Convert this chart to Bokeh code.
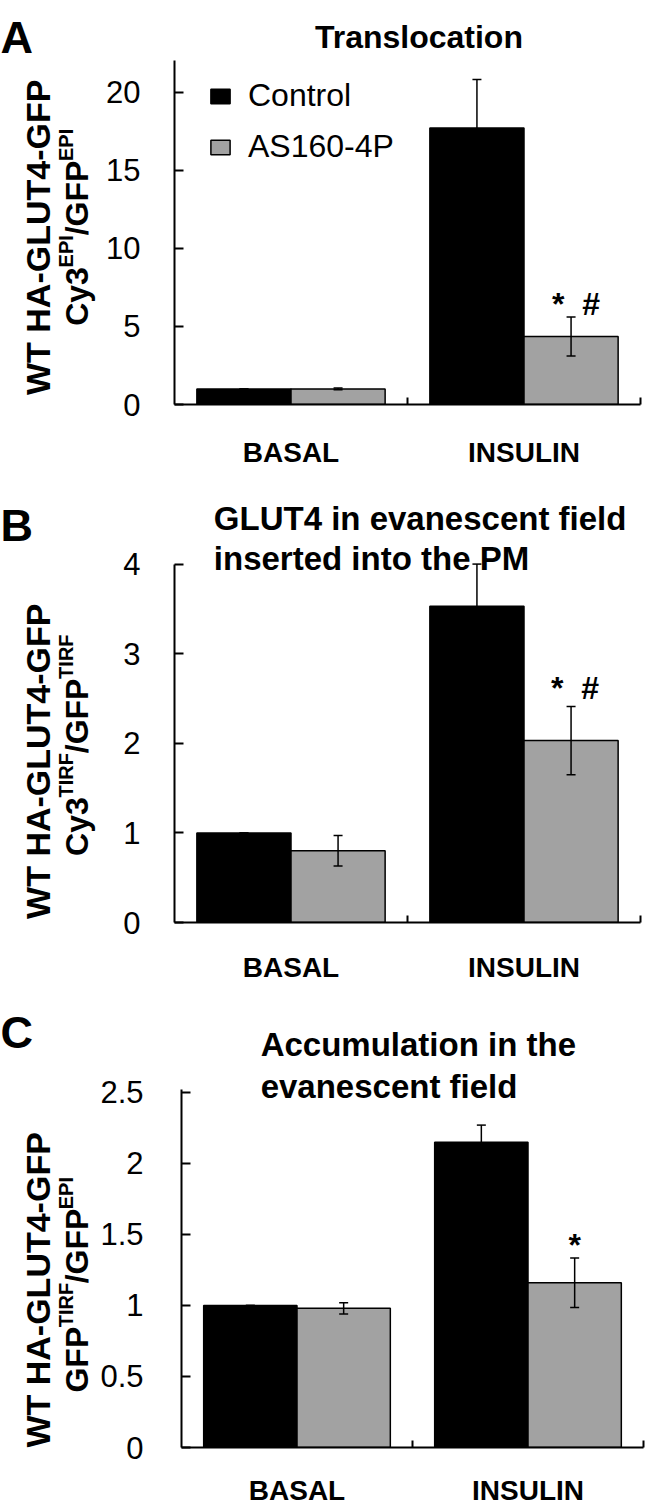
import math
from bokeh.plotting import figure
from bokeh.models import (ColumnDataSource, FixedTicker, Whisker, TeeHead, Label,
                          Range1d, Legend, LegendItem)
from bokeh.layouts import column, row
from bokeh.embed import file_html
from bokeh.resources import INLINE
from bokeh.core.properties import value

# ---------------- data ----------------
categories = ["BASAL", "INSULIN"]
series_names = ["Control", "AS160-4P"]

a_control = [1.0, 17.7]
a_control_err = [0.0, 3.1]
a_as160 = [1.0, 4.35]
a_as160_err = [0.06, 1.25]
a_sig = ["", "*\u00a0\u00a0#"]
a_ticks = [0, 5, 10, 15, 20]
a_tick_labels = ["0", "5", "10", "15", "20"]

b_control = [1.0, 3.53]
b_control_err = [0.0, 0.47]
b_as160 = [0.80, 2.03]
b_as160_err = [0.17, 0.38]
b_sig = ["", "*\u00a0\u00a0#"]
b_ticks = [0, 1, 2, 3, 4]
b_tick_labels = ["0", "1", "2", "3", "4"]

c_control = [1.0, 2.15]
c_control_err = [0.0, 0.12]
c_as160 = [0.98, 1.16]
c_as160_err = [0.04, 0.175]
c_sig = ["", "*"]
c_ticks = [0, 0.5, 1, 1.5, 2, 2.5]
c_tick_labels = ["0", "0.5", "1", "1.5", "2", "2.5"]

panel_letters = ["A", "B", "C"]
outer_label = "WT HA-GLUT4-GFP"
inner_labels = [
    [("Cy3", False), ("EPI", True), ("/GFP", False), ("EPI", True)],
    [("Cy3", False), ("TIRF", True), ("/GFP", False), ("TIRF", True)],
    [("GFP", False), ("TIRF", True), ("/GFP", False), ("EPI", True)],
]
titles = [
    ["Translocation"],
    ["GLUT4 in evanescent field", "inserted into the PM"],
    ["Accumulation in the", "evanescent field"],
]

# ---------------- style / layout ----------------
FONT = "Liberation Sans"
W = 650
LW = 97           # width of the left strip holding the rotated labels
BLACK = "#000000"
GRAY = "#a2a2a2"
BAR_W = 0.404
OFF = 0.202
MAIN_PX, SUP_PX, RAISE = 32, 20, 16
MID = 0.3465      # em distance from the text middle to the alphabetic baseline

# Arial-Bold advance widths (per 1000 em) used to stack the rotated label pieces
ADV = {'C': 722, 'y': 556, '3': 556, '/': 278, 'G': 778, 'F': 611, 'P': 667,
       'E': 667, 'I': 278, 'T': 611, 'R': 722}


def twidth(s, size):
    return sum(ADV.get(ch, 600) for ch in s) * size / 1000.0


panels = [
    dict(control=a_control, cerr=a_control_err, as160=a_as160, aerr=a_as160_err, sig=a_sig,
         ticks=a_ticks, tlabels=a_tick_labels, top=0, h=470, fl=173.6, fr=640.5,
         ft=60, fb=406, amax=22.04, xstand=26, sig_dy=13, sig_dx=5, legend=True,
         title_align="center", title_x=418.5, title_y=[37], title_size=32,
         letter_y=37, outer_cy=238, inner_cy=228, inner_bx=88),
    dict(control=b_control, cerr=b_control_err, as160=b_as160, aerr=b_as160_err, sig=b_sig,
         ticks=b_ticks, tlabels=b_tick_labels, top=470, h=515, fl=173.6, fr=640.5,
         ft=564, fb=924, amax=4.0, xstand=23, sig_dy=19, sig_dx=4, legend=False,
         title_align="left", title_x=213, title_y=[518, 558], title_size=33,
         letter_y=525, outer_cy=762, inner_cy=746, inner_bx=88),
    dict(control=c_control, cerr=c_control_err, as160=c_as160, aerr=c_as160_err, sig=c_sig,
         ticks=c_ticks, tlabels=c_tick_labels, top=985, h=523, fl=178.5, fr=642.6,
         ft=1090, fb=1451, amax=2.52, xstand=21, sig_dy=13, sig_dx=0, legend=False,
         title_align="left", title_x=258, title_y=[1045, 1087], title_size=33,
         letter_y=1032, outer_cy=1292, inner_cy=1287, inner_bx=88),
]

rows = []
for k, P in enumerate(panels):
    H = P["h"]
    bottom_page = P["top"] + H
    bb = int(round(bottom_page - P["fb"]))
    fb_page = bottom_page - bb
    ncat = len(categories)

    # ---------- left strip: panel letter + rotated axis titles ----------
    # its frame is aligned with the chart frame (same bottom border)
    lf = figure(width=LW, height=H, output_backend="svg", toolbar_location=None,
                x_range=Range1d(0, LW), y_range=Range1d(0, H - bb),
                min_border=0, min_border_left=0, min_border_right=0,
                min_border_top=0, min_border_bottom=bb,
                x_axis_location=None, y_axis_location=None)
    lf.outline_line_color = None
    lf.grid.visible = False
    lf.border_fill_color = "white"
    lf.background_fill_color = "white"

    lf.add_layout(Label(x=0, y=fb_page - P["letter_y"], text=panel_letters[k],
                        text_font=FONT, text_font_size="45px", text_font_style="bold",
                        text_align="left", text_baseline="alphabetic", text_color=BLACK))
    lf.add_layout(Label(x=37, y=fb_page - P["outer_cy"], text=outer_label,
                        angle=math.pi / 2, text_font=FONT, text_font_size="34px",
                        text_font_style="bold", text_align="center",
                        text_baseline="alphabetic", text_color=BLACK))

    pieces = inner_labels[k]
    total = sum(twidth(t, SUP_PX if s else MAIN_PX) for t, s in pieces)
    ystart = P["inner_cy"] + total / 2.0
    for t, s in pieces:
        size = SUP_PX if s else MAIN_PX
        base_x = P["inner_bx"] - (RAISE if s else 0)
        lf.add_layout(Label(x=base_x - MID * size, y=fb_page - ystart,
                            text=t, angle=math.pi / 2, text_font=FONT,
                            text_font_size="%dpx" % size, text_font_style="bold",
                            text_align="left", text_baseline="middle",
                            text_color=BLACK))
        ystart -= twidth(t, size)

    # ---------- main chart ----------
    mw = W - LW
    bl = int(round(P["fl"] - LW))
    br = int(round(W - P["fr"]))
    frame_h = fb_page - P["top"]
    upp = P["amax"] / (P["fb"] - P["ft"])          # data units per pixel
    yend = frame_h * upp

    p = figure(width=mw, height=H, output_backend="svg", toolbar_location=None,
               x_range=Range1d(0, ncat), y_range=Range1d(0, yend),
               min_border_left=bl, min_border_right=br, min_border_top=0,
               min_border_bottom=bb, title=None)
    p.outline_line_color = None
    p.grid.visible = False
    p.background_fill_color = "white"
    p.border_fill_color = "white"

    xc = [i + 0.5 - OFF for i in range(ncat)]
    xa = [i + 0.5 + OFF for i in range(ncat)]
    src_c = ColumnDataSource(dict(x=xc, top=P["control"],
                                  upper=[v + e for v, e in zip(P["control"], P["cerr"])],
                                  lower=[v - e for v, e in zip(P["control"], P["cerr"])]))
    src_a = ColumnDataSource(dict(x=xa, top=P["as160"],
                                  upper=[v + e for v, e in zip(P["as160"], P["aerr"])],
                                  lower=[v - e for v, e in zip(P["as160"], P["aerr"])],
                                  sig=P["sig"]))
    r1 = p.vbar(x="x", top="top", width=BAR_W, source=src_c, fill_color=BLACK,
                line_color=BLACK, line_width=1.5)
    r2 = p.vbar(x="x", top="top", width=BAR_W, source=src_a, fill_color=GRAY,
                line_color=BLACK, line_width=1.5)
    for s in (src_c, src_a):
        p.add_layout(Whisker(source=s, base="x", upper="upper", lower="lower",
                             line_color=BLACK, line_width=1.5, level="overlay",
                             upper_head=TeeHead(size=9, line_width=1.5, line_color=BLACK),
                             lower_head=TeeHead(size=9, line_width=1.5, line_color=BLACK)))
    p.text(x="x", y="upper", text="sig", source=src_a, x_offset=P["sig_dx"],
           y_offset=-P["sig_dy"], text_align="center", text_baseline="alphabetic",
           text_color=BLACK, text_font=value(FONT), text_font_style="bold",
           text_font_size="32px")

    # titles (inside the tall frame, above the bounded y axis)
    tx = [(P["title_x"] - P["fl"]) / (P["fr"] - P["fl"]) * ncat] * len(titles[k])
    ty = [(P["fb"] - Y) * upp for Y in P["title_y"]]
    p.text(x=tx, y=ty, text=titles[k], text_font=value(FONT),
           text_font_size="%dpx" % P["title_size"], text_font_style="bold",
           text_align=P["title_align"], text_baseline="alphabetic", text_color=BLACK)

    # y axis
    ya = p.yaxis[0]
    ya.bounds = (0, P["amax"])
    ya.ticker = FixedTicker(ticks=P["ticks"])
    ya.major_label_overrides = {t: s for t, s in zip(P["ticks"], P["tlabels"])}
    ya.major_tick_in = 9
    ya.major_tick_out = 0
    ya.minor_tick_line_color = None
    ya.axis_line_width = 2
    ya.major_tick_line_width = 2
    ya.major_label_text_font = FONT
    ya.major_label_text_font_size = "31px"
    ya.major_label_text_color = BLACK
    ya.major_label_text_align = "center"
    ya.major_label_standoff = int(round(P["fl"] - 140))

    # x axis
    xax = p.xaxis[0]
    xax.ticker = FixedTicker(ticks=[i + 0.5 for i in range(ncat)],
                             minor_ticks=[i + 1 for i in range(ncat)])
    xax.major_label_overrides = {i + 0.5: c for i, c in enumerate(categories)}
    xax.major_tick_line_color = None
    xax.minor_tick_in = 7
    xax.minor_tick_out = 0
    xax.minor_tick_line_width = 2
    xax.axis_line_width = 2
    xax.major_label_text_font = FONT
    xax.major_label_text_font_size = "28px"
    xax.major_label_text_font_style = "bold"
    xax.major_label_text_color = BLACK
    xax.major_label_standoff = P["xstand"]

    if P["legend"]:
        leg = Legend(items=[LegendItem(label=series_names[0], renderers=[r1]),
                            LegendItem(label=series_names[1], renderers=[r2])],
                     location=(34, 239), orientation="vertical")
        leg.label_text_font = FONT
        leg.label_text_font_size = "32px"
        leg.label_text_color = BLACK
        leg.glyph_width = 24
        leg.glyph_height = 18
        leg.label_height = 36
        leg.label_standoff = 16
        leg.spacing = 14
        leg.padding = 0
        leg.margin = 0
        leg.border_line_color = None
        leg.background_fill_alpha = 0
        p.add_layout(leg)

    rows.append(row(lf, p, spacing=0))

layout = column(*rows, spacing=0)
open("out.html", "w").write(file_html(layout, INLINE))
